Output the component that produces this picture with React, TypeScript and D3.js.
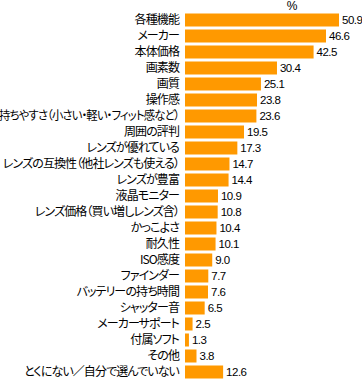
import React, { useLayoutEffect, useRef } from "react";
import * as d3 from "d3";

const categories: string[] = [
  "各種機能",
  "メーカー",
  "本体価格",
  "画素数",
  "画質",
  "操作感",
  "持ちやすさ（小さい・軽い・フィット感など）",
  "周囲の評判",
  "レンズが優れている",
  "レンズの互換性（他社レンズも使える）",
  "レンズが豊富",
  "液晶モニター",
  "レンズ価格（買い増しレンズ含）",
  "かっこよさ",
  "耐久性",
  "ISO感度",
  "ファインダー",
  "バッテリーの持ち時間",
  "シャッター音",
  "メーカーサポート",
  "付属ソフト",
  "その他",
  "とくにない／自分で選んでいない",
];

const values: number[] = [
  50.9, 46.6, 42.5, 30.4, 25.1, 23.8, 23.6, 19.5, 17.3, 14.7, 14.4, 10.9, 10.8,
  10.4, 10.1, 9.0, 7.7, 7.6, 6.5, 2.5, 1.3, 3.8, 12.6,
];

const unitLabel = "%";

const W = 362;
const H = 379;
const LABEL_RIGHT = 179;
const LABEL_MAX = 180;

export default function App() {
  const svgRef = useRef<SVGSVGElement>(null);
  const x = d3.scaleLinear().domain([0, 50.9]).range([185, 339]);
  const y = d3
    .scaleBand<number>()
    .domain(d3.range(categories.length))
    .range([12, 12 + 16 * categories.length])
    .paddingInner(3 / 16)
    .paddingOuter(3 / 32);

  useLayoutEffect(() => {
    if (!svgRef.current) return;
    d3.select(svgRef.current)
      .selectAll<SVGTextElement, unknown>("text.cat")
      .each(function () {
        const len = this.getComputedTextLength();
        if (len > LABEL_MAX) {
          this.setAttribute("textLength", String(LABEL_MAX));
          this.setAttribute("lengthAdjust", "spacingAndGlyphs");
        }
      });
  }, []);

  const jp = "'Noto Sans CJK JP', sans-serif";
  const num = "'Liberation Sans', Arial, sans-serif";

  return (
    <svg
      ref={svgRef}
      width={W}
      height={H}
      style={{ position: "absolute", left: 0, top: 0, background: "#fff" }}
    >
      <text
        x={292}
        y={10}
        textAnchor="middle"
        fontFamily={num}
        fontSize={12}
        fill="#000"
      >
        {unitLabel}
      </text>
      {categories.map((c, i) => {
        const yy = y(i)!;
        const bh = y.bandwidth();
        const cy = yy + bh / 2;
        return (
          <g key={i}>
            <rect
              x={x(0)}
              y={yy}
              width={x(values[i]) - x(0)}
              height={bh}
              fill="#FF9900"
            />
            <text
              className="cat"
              x={LABEL_RIGHT}
              y={cy}
              dy="0.36em"
              textAnchor="end"
              fontFamily={jp}
              fontSize={12}
              letterSpacing={-0.9}
              style={{ fontFeatureSettings: '"palt" 1' }}
              fill="#000"
            >
              {c}
            </text>
            <text
              x={x(values[i]) + 3}
              y={cy}
              dy="0.38em"
              fontFamily={num}
              fontSize={11.5}
              letterSpacing={-0.5}
              fill="#000"
            >
              {values[i].toFixed(1)}
            </text>
          </g>
        );
      })}
    </svg>
  );
}
